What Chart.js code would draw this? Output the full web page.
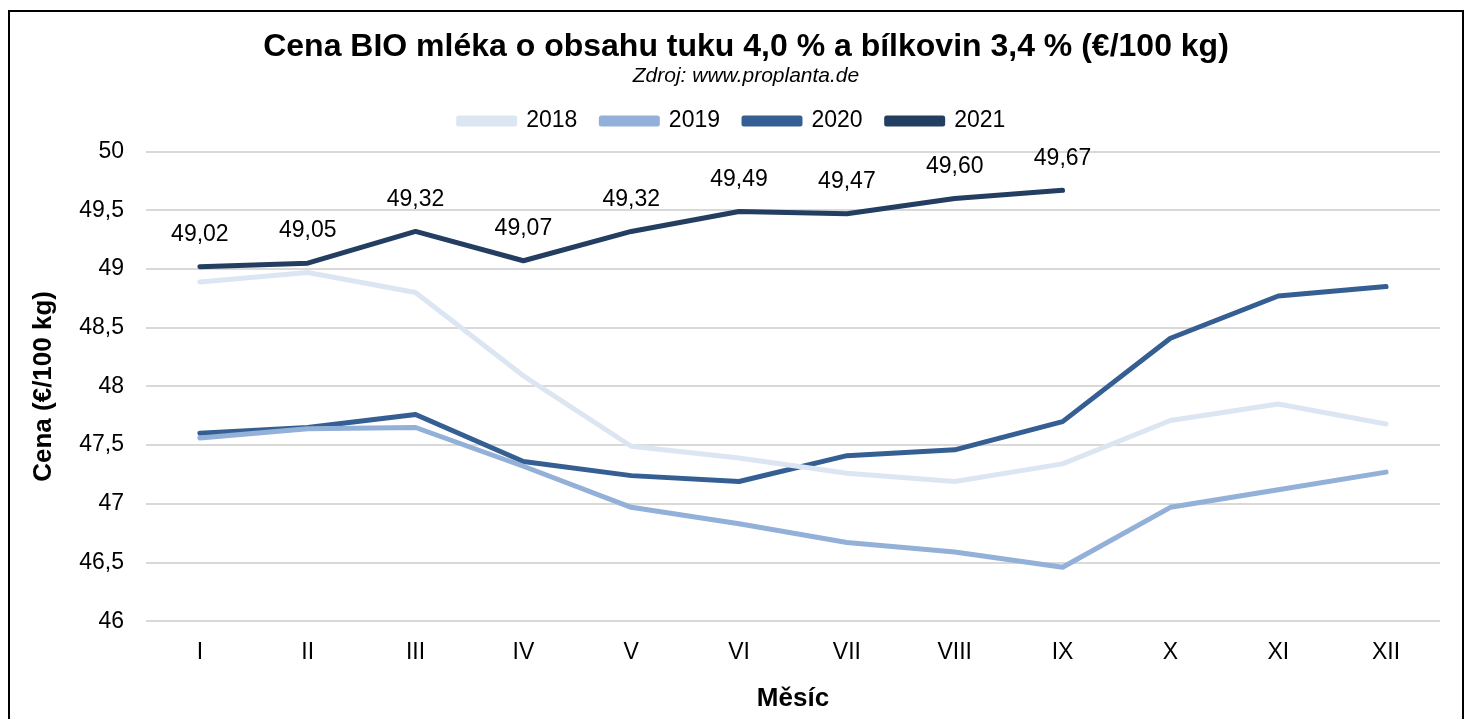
<!DOCTYPE html>
<html>
<head>
<meta charset="utf-8">
<script src="https://cdn.jsdelivr.net/npm/chart.js@4.4.1/dist/chart.umd.min.js"></script>
<style>
  html, body { margin: 0; padding: 0; background: #fff; overflow: hidden; }
  #wrap { position: relative; width: 1466px; height: 719px; }
  #ramecek { position: absolute; left: 8px; top: 10px; width: 1452px; height: 740px; border: 2px solid #000; pointer-events: none; }
  canvas { position: absolute; left: 0; top: 0; }
</style>
</head>
<body>
<div id="wrap">
  <canvas id="graf" width="1466" height="719"></canvas>
  <div id="ramecek"></div>
</div>
<script>
// Data z grafu
const mesice = ['I', 'II', 'III', 'IV', 'V', 'VI', 'VII', 'VIII', 'IX', 'X', 'XI', 'XII'];
const cena2018 = [48.89, 48.97, 48.80, 48.09, 47.49, 47.39, 47.26, 47.19, 47.34, 47.71, 47.85, 47.68];
const cena2019 = [47.56, 47.64, 47.65, 47.32, 46.97, 46.83, 46.67, 46.59, 46.46, 46.97, 47.12, 47.27];
const cena2020 = [47.60, 47.65, 47.76, 47.36, 47.24, 47.19, 47.41, 47.46, 47.70, 48.41, 48.77, 48.85];
const cena2021 = [49.02, 49.05, 49.32, 49.07, 49.32, 49.49, 49.47, 49.60, 49.67];

const barvy = ['#dce6f2', '#93b0d8', '#355f93', '#233e60'];
const pismo = "'Liberation Sans', Arial, sans-serif";
const nadpis = 'Cena BIO mléka o obsahu tuku 4,0 % a bílkovin 3,4 % (€/100 kg)';
const zdroj = 'Zdroj: www.proplanta.de';

// popisky hodnot nad rokem 2021
const popiskyPlugin = {
    id: 'popisky',
    afterDatasetsDraw(chart) {
        const ctx = chart.ctx;
        const meta = chart.getDatasetMeta(3);
        ctx.save();
        ctx.font = '23px ' + pismo;
        ctx.fillStyle = '#000';
        ctx.textAlign = 'center';
        ctx.textBaseline = 'middle';
        meta.data.forEach((bod, i) => {
            const txt = cena2021[i].toFixed(2).replace('.', ',');
            ctx.fillText(txt, bod.x, bod.y - 32);
        });
        ctx.restore();
    }
};

// trochu vic mista pod legendou
const legendaPlugin = {
    id: 'legendaMisto',
    beforeInit(chart) {
        const puvodni = chart.legend.fit;
        chart.legend.fit = function () {
            puvodni.bind(chart.legend)();
            this.height += 9;
        };
    },
    // nadpis a zdroj jsou v originale posunute trochu doprava
    afterLayout(chart) {
        chart.boxes.forEach((box) => {
            if (box.options && (box.options.text === nadpis || box.options.text === zdroj)) {
                box.left += 28;
            }
        });
    }
};

function rada(label, data, barva) {
    return {
        label: label,
        data: data,
        borderColor: barva,
        backgroundColor: barva,
        borderWidth: 5,
        pointRadius: 0,
        pointHoverRadius: 0,
        tension: 0,
        borderCapStyle: 'round',
        borderJoinStyle: 'round'
    };
}

const ctx = document.getElementById('graf').getContext('2d');
const myChart = new Chart(ctx, {
    type: 'line',
    data: {
        labels: mesice,
        datasets: [
            rada('2018', cena2018, barvy[0]),
            rada('2019', cena2019, barvy[1]),
            rada('2020', cena2020, barvy[2]),
            rada('2021', cena2021, barvy[3])
        ]
    },
    options: {
        responsive: false,
        animation: false,
        layout: { padding: { left: 24, right: 26, top: 28, bottom: 3 } },
        plugins: {
            title: {
                display: true,
                text: nadpis,
                color: '#000',
                font: { family: pismo, size: 32, weight: 'bold' },
                padding: { top: 0, bottom: -3 }
            },
            subtitle: {
                display: true,
                text: zdroj,
                color: '#000',
                font: { family: pismo, size: 21, style: 'italic' },
                padding: { top: 0, bottom: -3 }
            },
            legend: {
                position: 'top',
                labels: {
                    color: '#000',
                    font: { family: pismo, size: 23 },
                    boxWidth: 56,
                    boxHeight: 6,
                    padding: 24
                }
            },
            tooltip: { enabled: false }
        },
        scales: {
            x: {
                offset: true,
                grid: { display: false },
                border: { display: false },
                ticks: { color: '#000', font: { family: pismo, size: 23 }, padding: 10 },
                title: {
                    display: true,
                    text: 'Měsíc',
                    color: '#000',
                    font: { family: pismo, size: 26, weight: 'bold' },
                    padding: { top: 6, bottom: 2 }
                }
            },
            y: {
                min: 46,
                max: 50,
                grid: { color: '#d9d9d9', lineWidth: 2, drawTicks: false },
                border: { display: false },
                ticks: {
                    stepSize: 0.5,
                    color: '#000',
                    font: { family: pismo, size: 23 },
                    padding: 22,
                    callback: (v) => String(v).replace('.', ',')
                },
                title: {
                    display: true,
                    text: 'Cena (€/100 kg)',
                    color: '#000',
                    font: { family: pismo, size: 26, weight: 'bold' },
                    padding: { bottom: -2 }
                }
            }
        }
    },
    plugins: [popiskyPlugin, legendaPlugin]
});
</script>
</body>
</html>
